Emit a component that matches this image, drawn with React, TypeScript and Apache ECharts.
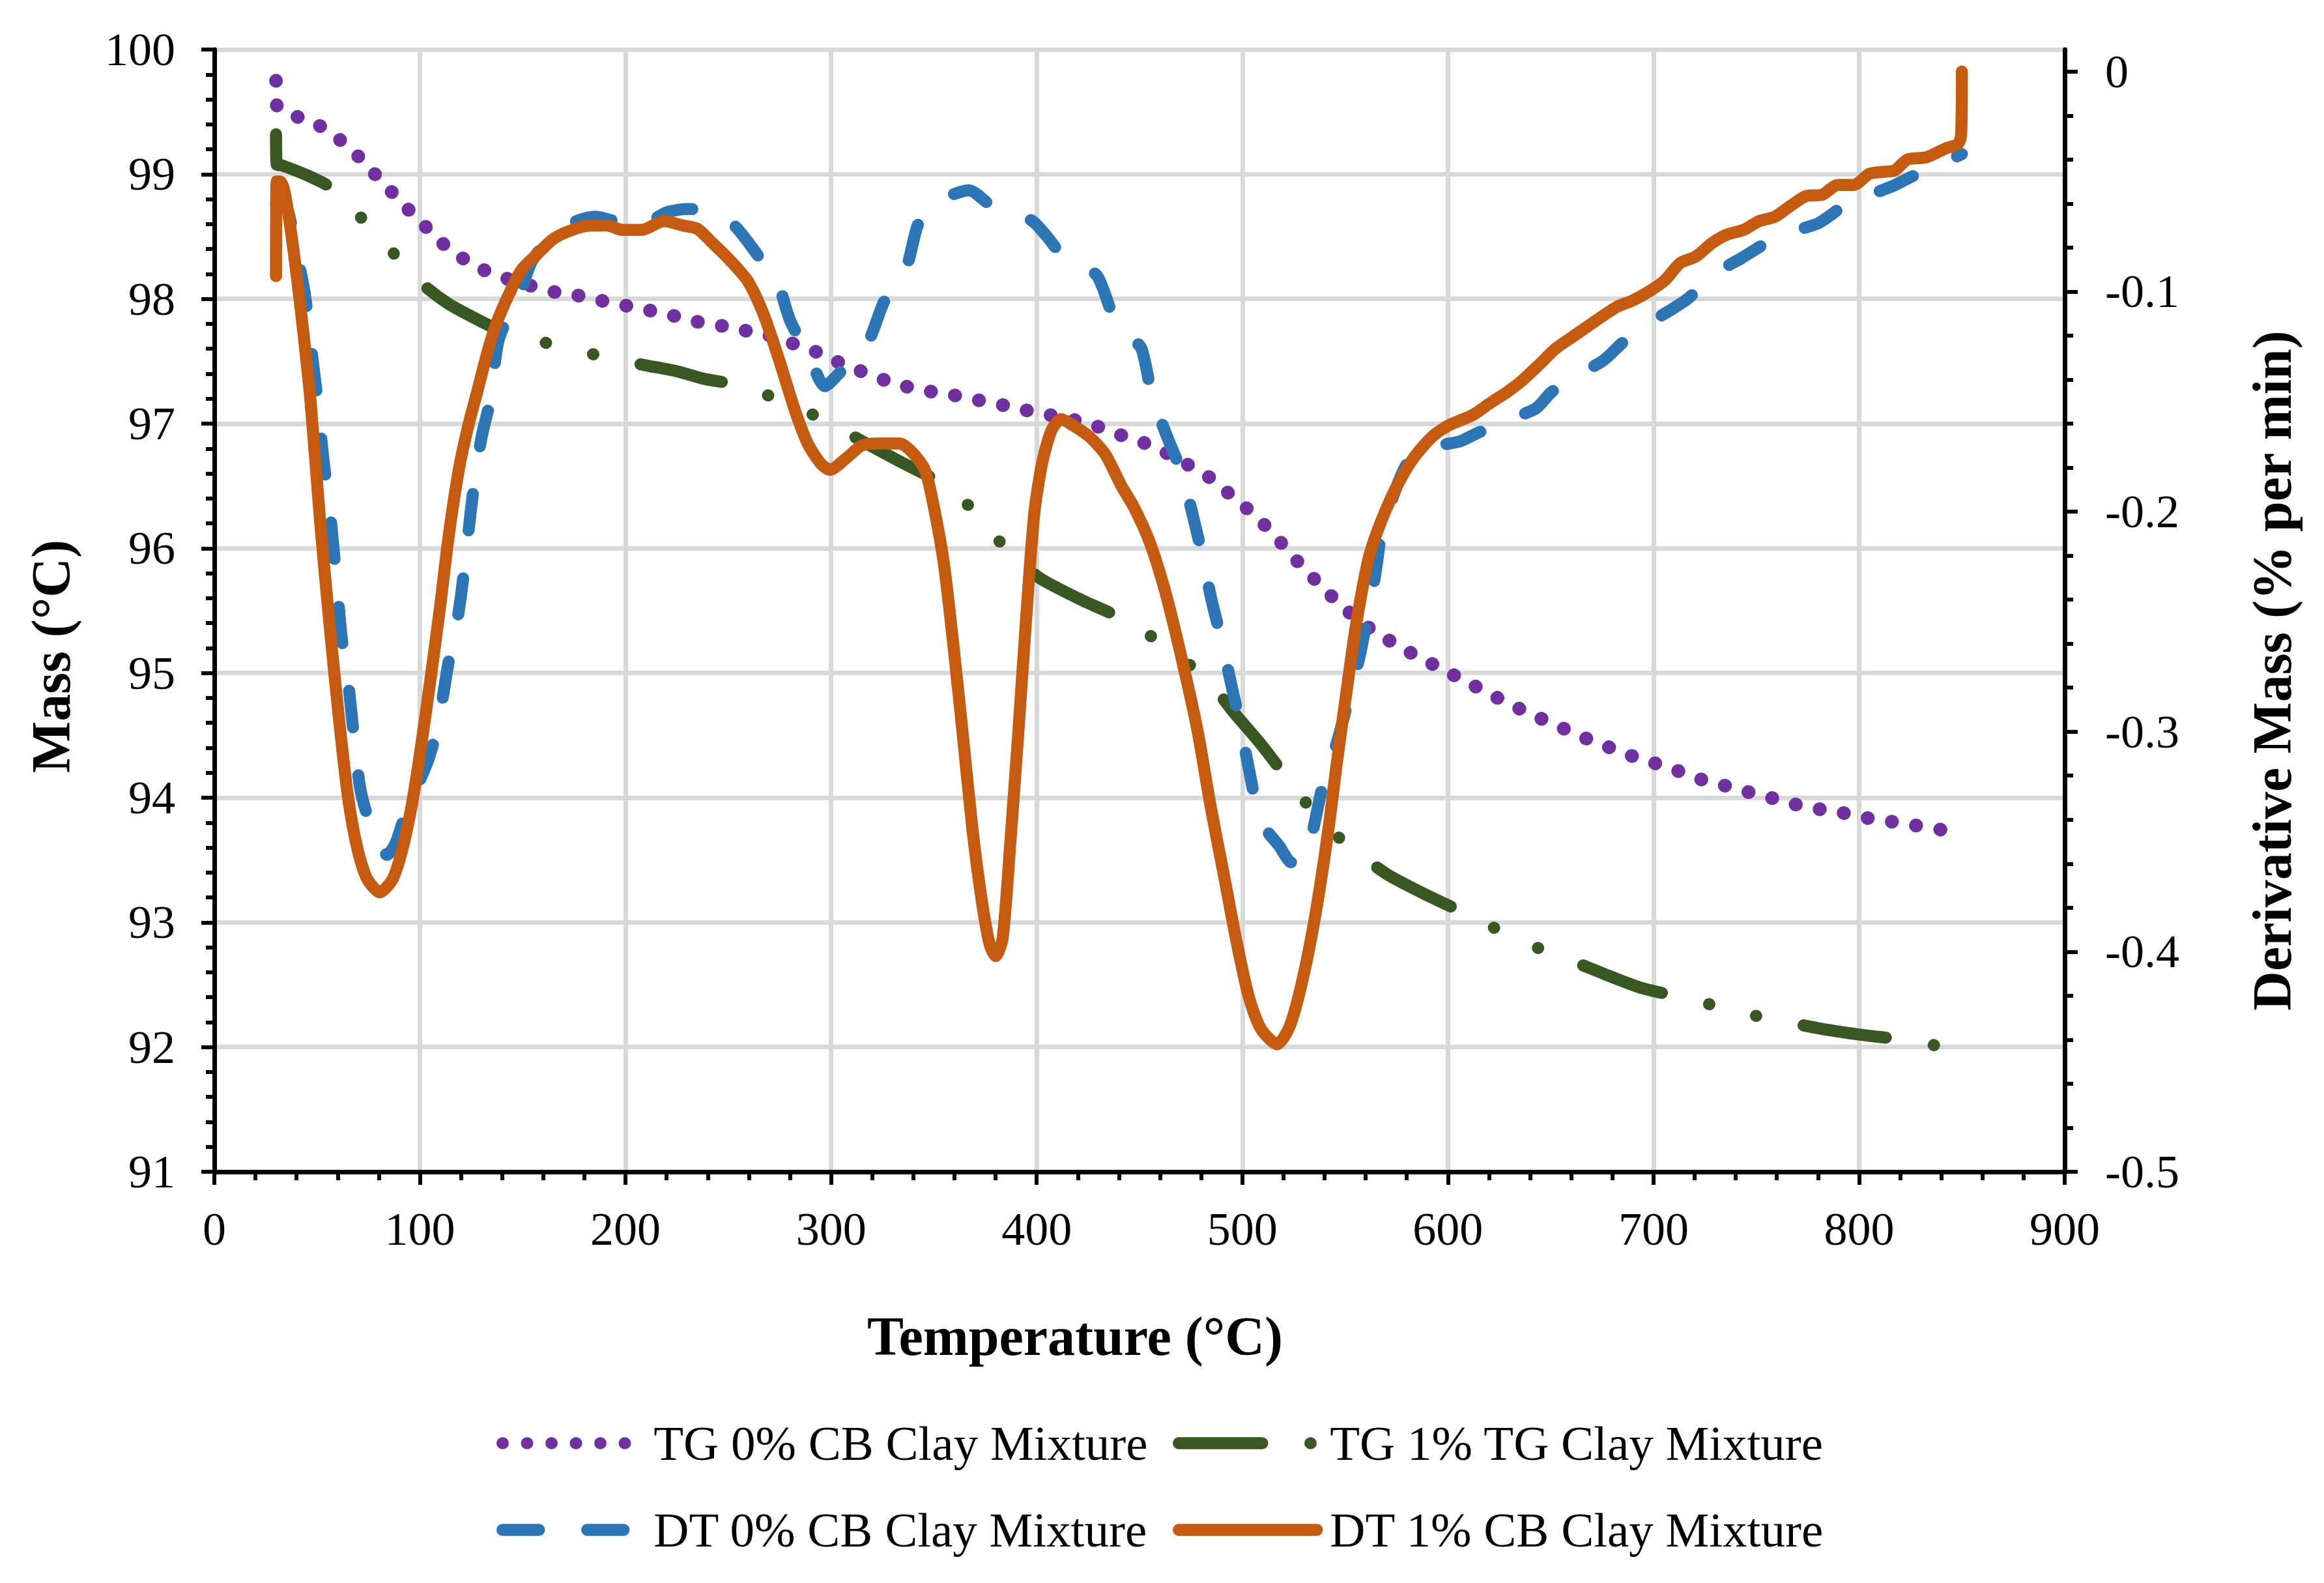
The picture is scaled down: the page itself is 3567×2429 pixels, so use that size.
import { useEffect, useRef } from 'react';
import * as echarts from 'echarts';

// TG 0% CB Clay Mixture (left axis, mass %)
const tg0Temp = [30, 30.4, 39, 50, 60, 69, 77, 85, 93, 101.5, 110, 119.5, 130, 141, 153, 164, 176, 187, 199, 211, 222, 234, 245, 257, 269, 280, 292, 302.5, 313, 324, 336, 347.5, 359, 371, 383, 394, 406, 418, 429, 440.5, 451.5, 462.5, 472.5, 483, 492, 501.5, 510, 518, 526, 534, 542.5, 551, 561, 570.5, 581, 591.5, 602, 612.5, 623, 634, 644.5, 655.5, 666.5, 677.5, 688.5, 700, 711, 722.5, 734, 745, 757, 768, 780, 791.5, 803, 815, 826.5, 838, 850];
const tg0Mass = [99.75, 99.55, 99.47, 99.4, 99.29, 99.16, 99.02, 98.88, 98.74, 98.6, 98.46, 98.34, 98.24, 98.17, 98.11, 98.06, 98.03, 97.99, 97.95, 97.91, 97.87, 97.82, 97.79, 97.75, 97.71, 97.65, 97.58, 97.5, 97.43, 97.36, 97.3, 97.26, 97.23, 97.19, 97.15, 97.11, 97.07, 97.03, 96.98, 96.91, 96.85, 96.77, 96.68, 96.58, 96.46, 96.33, 96.2, 96.06, 95.91, 95.77, 95.63, 95.5, 95.37, 95.27, 95.17, 95.08, 94.99, 94.9, 94.81, 94.72, 94.64, 94.56, 94.48, 94.41, 94.34, 94.28, 94.22, 94.15, 94.1, 94.05, 94.0, 93.95, 93.91, 93.88, 93.84, 93.81, 93.78, 93.75, 93.7];

// TG 1% TG Clay Mixture (left axis)
const tg1Temp = [30, 30.3, 33, 41, 48, 55, 63, 71.5, 79, 87.5, 95, 104, 114, 125, 136, 150, 163, 175, 186, 198, 209, 225, 238, 251.5, 263, 273, 285, 295, 305, 315, 333, 353, 362, 370.5, 378, 386, 394, 402.5, 422.5, 442.5, 452, 462, 471, 480, 488, 495.5, 509, 522, 529, 536.5, 545, 554, 563, 572, 592, 611.5, 622, 632.5, 643, 654, 665, 675.5, 695, 717, 728, 739, 750, 762, 784, 805, 827, 838, 850];
const tg1Mass = [99.32, 99.08, 99.07, 99.02, 98.97, 98.91, 98.79, 98.65, 98.51, 98.36, 98.22, 98.08, 97.96, 97.86, 97.77, 97.7, 97.64, 97.59, 97.55, 97.51, 97.47, 97.42, 97.36, 97.32, 97.27, 97.2, 97.12, 97.04, 96.95, 96.86, 96.7, 96.53, 96.42, 96.28, 96.13, 95.98, 95.86, 95.75, 95.58, 95.43, 95.33, 95.23, 95.11, 94.99, 94.85, 94.69, 94.43, 94.15, 94.0, 93.85, 93.71, 93.58, 93.47, 93.37, 93.2, 93.05, 92.96, 92.87, 92.8, 92.73, 92.66, 92.59, 92.47, 92.39, 92.34, 92.3, 92.25, 92.21, 92.14, 92.09, 92.05, 92.01, 91.98];

// DT 0% CB Clay Mixture (right axis, % per min)
const dt0Temp = [30, 32, 36, 40, 44, 47, 50, 53, 56, 59, 62, 65, 68, 71, 75, 80, 84, 88, 92, 96, 100, 104, 108, 111, 114, 117, 120, 123, 126, 130, 134, 138, 143, 148, 154, 161, 168, 176, 185, 195, 203, 212, 220, 230, 240, 248, 254, 260, 267, 274, 280, 290, 297, 303, 310, 318, 325.5, 331, 337, 342.5, 350, 359, 367, 378, 388, 398, 405, 412, 420, 429.5, 438, 445, 451, 456, 463, 470.8, 476, 480.8, 485, 490, 494.5, 499, 503, 507, 512, 518, 523, 528, 533, 539, 546, 552, 557, 561, 564.6, 568, 573, 578, 584, 595, 606, 615, 623, 633, 643, 650, 657.5, 667, 676, 684, 691, 700, 709, 717, 724.5, 733, 743, 751, 759, 770, 780, 788, 795, 805, 816.5, 825, 833.5, 842, 850];
const dt0Rate = [-0.06, -0.057, -0.064, -0.082, -0.101, -0.125, -0.148, -0.176, -0.198, -0.227, -0.258, -0.277, -0.303, -0.326, -0.34, -0.35, -0.356, -0.351, -0.34, -0.331, -0.322, -0.313, -0.3, -0.285, -0.268, -0.256, -0.238, -0.214, -0.19, -0.166, -0.15, -0.123, -0.111, -0.103, -0.087, -0.078, -0.073, -0.068, -0.066, -0.068, -0.07, -0.068, -0.064, -0.0625, -0.063, -0.066, -0.071, -0.078, -0.087, -0.096, -0.113, -0.131, -0.143, -0.138, -0.131, -0.123, -0.105, -0.097, -0.088, -0.069, -0.062, -0.056, -0.054, -0.061, -0.064, -0.068, -0.075, -0.083, -0.087, -0.093, -0.113, -0.12, -0.126, -0.147, -0.165, -0.183, -0.202, -0.221, -0.24, -0.259, -0.278, -0.297, -0.316, -0.334, -0.345, -0.352, -0.359, -0.36, -0.35, -0.325, -0.305, -0.284, -0.266, -0.247, -0.229, -0.208, -0.194, -0.182, -0.173, -0.17, -0.168, -0.164, -0.161, -0.157, -0.153, -0.146, -0.141, -0.136, -0.131, -0.124, -0.118, -0.113, -0.108, -0.103, -0.0963, -0.09, -0.0847, -0.08, -0.0754, -0.072, -0.069, -0.064, -0.0588, -0.056, -0.052, -0.048, -0.0448, -0.041, -0.0375];

// DT 1% CB Clay Mixture (right axis)
const dt1Temp = [30, 30.3, 32, 34, 37.6, 42, 46.8, 51.4, 56, 60.6, 65.2, 69.8, 74.4, 80.5, 86.7, 91.3, 95.9, 100.5, 105, 109.7, 114, 118.9, 123.5, 128, 132.7, 137, 143.4, 149.5, 157, 165, 174, 183, 191, 198.6, 207.8, 218.6, 228, 235, 242.4, 250, 259.3, 267, 274.7, 282.4, 288.6, 294.8, 299.4, 307, 314.8, 322.5, 333.3, 339.4, 345.6, 350, 354.9, 359.5, 364, 368.7, 373.3, 377.2, 380, 383.4, 387.2, 391, 394.9, 398.8, 402.6, 407.2, 411.9, 418, 425.7, 433.4, 441, 447.3, 455, 463, 472.3, 478.5, 484.6, 490.8, 496.9, 503, 509, 517, 523, 529, 535.4, 541.5, 546, 550.8, 555.4, 561.5, 567.7, 575.4, 583, 592.3, 600, 612.3, 620, 629, 635.4, 644.6, 652.3, 661.5, 672.3, 682, 690, 697.7, 705.4, 713, 720.7, 728.4, 736, 743.7, 751.4, 759, 766.7, 774.4, 782, 789.7, 797.4, 805, 812.7, 817.3, 823.5, 832.7, 842, 848, 849.6, 850];
const dt1Rate = [-0.093, -0.05, -0.05, -0.054, -0.075, -0.108, -0.15, -0.204, -0.251, -0.294, -0.331, -0.354, -0.367, -0.373, -0.367, -0.354, -0.334, -0.307, -0.277, -0.244, -0.211, -0.181, -0.161, -0.145, -0.128, -0.115, -0.101, -0.09, -0.083, -0.076, -0.072, -0.07, -0.07, -0.072, -0.072, -0.068, -0.07, -0.0715, -0.078, -0.085, -0.095, -0.11, -0.131, -0.154, -0.169, -0.178, -0.181, -0.176, -0.17, -0.169, -0.169, -0.173, -0.181, -0.198, -0.224, -0.261, -0.301, -0.344, -0.377, -0.397, -0.402, -0.394, -0.35, -0.301, -0.248, -0.201, -0.178, -0.163, -0.158, -0.161, -0.166, -0.174, -0.188, -0.198, -0.214, -0.238, -0.274, -0.301, -0.334, -0.364, -0.394, -0.42, -0.435, -0.442, -0.434, -0.414, -0.384, -0.347, -0.314, -0.281, -0.251, -0.221, -0.204, -0.188, -0.176, -0.166, -0.161, -0.156, -0.151, -0.1455, -0.141, -0.133, -0.126, -0.12, -0.113, -0.107, -0.104, -0.1, -0.095, -0.087, -0.084, -0.078, -0.074, -0.072, -0.068, -0.066, -0.061, -0.0565, -0.056, -0.0515, -0.0515, -0.0465, -0.0455, -0.045, -0.04, -0.039, -0.035, -0.033, -0.029, 0];

const massTicks = [91, 100];
const rateTicks = [-0.5, -0.4, -0.3, -0.2, -0.1, 0];
const seriesNames = ['TG 0% CB Clay Mixture', 'TG 1% TG Clay Mixture', 'DT 0% CB Clay Mixture', 'DT 1% CB Clay Mixture'];

const FONT = "'Liberation Serif', 'Times New Roman', serif";
const LW = 18.5;

const zip = (xs: number[], ys: number[]) => xs.map((x, i) => [x, ys[i]]);

// minor ticks of the right axis, every 0.02 between the major ones
const rateMinor: number[] = [];
for (let i = 0; i < rateTicks.length - 1; i++) {
  for (let k = 1; k < 5; k++) rateMinor.push(+(rateTicks[i] + k * 0.02).toFixed(2));
}

export default function App() {
  const chartRef = useRef<HTMLDivElement>(null);

  useEffect(() => {
    if (!chartRef.current) return;
    const chart = echarts.init(chartRef.current, undefined, { renderer: 'svg' });

    const tick = { show: true, length: 20, lineStyle: { color: '#000', width: 6 } };
    const minor = { show: true, splitNumber: 5, length: 13, lineStyle: { color: '#000', width: 6 } };
    const axisLine = { show: true, onZero: false, lineStyle: { color: '#000', width: 7 } };
    const label = { fontSize: 72, fontFamily: FONT, color: '#000' };
    const grid = { color: '#d9d9d9', width: 7 };

    const legendBase = {
      orient: 'horizontal',
      padding: 0,
      itemWidth: 212,
      itemHeight: 20,
      itemStyle: { opacity: 0 },
      lineStyle: { width: LW, cap: 'round', type: 'inherit' },
      textStyle: { fontSize: 75, fontFamily: FONT, color: '#000', padding: [0, 0, 0, 15] },
      selectedMode: false,
    };

    const option: echarts.EChartsOption = {
      animation: false,
      backgroundColor: '#fff',
      textStyle: { fontFamily: FONT },
      grid: { left: 329, right: 398, top: 76, bottom: 631 },
      xAxis: {
        type: 'value',
        min: 0,
        max: 900,
        interval: 100,
        axisLine,
        axisTick: tick,
        minorTick: minor,
        axisLabel: { ...label, margin: 52 },
        splitLine: { show: true, lineStyle: grid },
      },
      yAxis: [
        {
          type: 'value',
          position: 'left',
          min: massTicks[0],
          max: massTicks[1],
          interval: 1,
          axisLine,
          axisTick: tick,
          minorTick: minor,
          axisLabel: { ...label, margin: 60 },
          splitLine: { show: true, lineStyle: grid },
        },
        {
          type: 'value',
          position: 'right',
          min: -0.5,
          max: 0.01,
          axisLine,
          axisTick: { ...tick, customValues: rateTicks },
          axisLabel: { ...label, margin: 62, customValues: rateTicks },
          splitLine: { show: false },
        },
        {
          type: 'value',
          position: 'right',
          min: -0.5,
          max: 0.01,
          axisLine: { show: false, onZero: false },
          axisTick: { ...tick, length: 13, customValues: rateMinor },
          axisLabel: { show: false },
          splitLine: { show: false },
        },
      ],
      legend: [
        { ...legendBase, left: 762, top: 2177, data: [seriesNames[0]] },
        { ...legendBase, left: 1800, top: 2177, data: [seriesNames[1]] },
        { ...legendBase, left: 762, top: 2310, data: [seriesNames[2]] },
        { ...legendBase, left: 1800, top: 2310, data: [seriesNames[3]] },
      ] as any,
      graphic: [
        {
          type: 'text',
          x: 78,
          y: 1007,
          rotation: Math.PI / 2,
          style: { text: 'Mass (°C)', fontSize: 84, fontWeight: 'bold', fontFamily: FONT, fill: '#000', align: 'center', verticalAlign: 'middle' },
        },
        {
          type: 'text',
          x: 3487,
          y: 1029,
          rotation: Math.PI / 2,
          style: { text: 'Derivative Mass (% per min)', fontSize: 84, fontWeight: 'bold', fontFamily: FONT, fill: '#000', align: 'center', verticalAlign: 'middle' },
        },
        {
          type: 'text',
          x: 1650,
          y: 2050,
          style: { text: 'Temperature (°C)', fontSize: 84, fontWeight: 'bold', fontFamily: FONT, fill: '#000', align: 'center', verticalAlign: 'middle' },
        },
      ],
      series: [
        {
          name: seriesNames[0],
          type: 'line',
          yAxisIndex: 0,
          data: zip(tg0Temp, tg0Mass),
          symbol: 'none',
          smooth: 0.25,
          itemStyle: { color: '#7030a0' },
          lineStyle: { color: '#7030a0', width: 21, type: [0.5, 37], cap: 'round' },
        },
        {
          name: seriesNames[1],
          type: 'line',
          yAxisIndex: 0,
          data: zip(tg1Temp, tg1Mass),
          symbol: 'none',
          smooth: 0.25,
          itemStyle: { color: '#385723' },
          lineStyle: { color: '#385723', width: LW, type: [128, 74, 0.5, 74, 0.5, 74], cap: 'round' },
        },
        {
          name: seriesNames[2],
          type: 'line',
          yAxisIndex: 1,
          data: zip(dt0Temp, dt0Rate),
          symbol: 'none',
          smooth: 0.25,
          itemStyle: { color: '#2e75b6' },
          lineStyle: { color: '#2e75b6', width: LW, type: [56, 74], cap: 'round' },
        },
        {
          name: seriesNames[3],
          type: 'line',
          yAxisIndex: 1,
          data: zip(dt1Temp, dt1Rate),
          symbol: 'none',
          smooth: 0.25,
          itemStyle: { color: '#c55a11' },
          lineStyle: { color: '#c55a11', width: LW, cap: 'round', join: 'round' },
        },
      ],
    };

    chart.setOption(option);
    return () => chart.dispose();
  }, []);

  return (
    <div
      ref={chartRef}
      style={{ position: 'absolute', left: 0, top: 0, width: 3567, height: 2429, background: '#fff' }}
    />
  );
}
